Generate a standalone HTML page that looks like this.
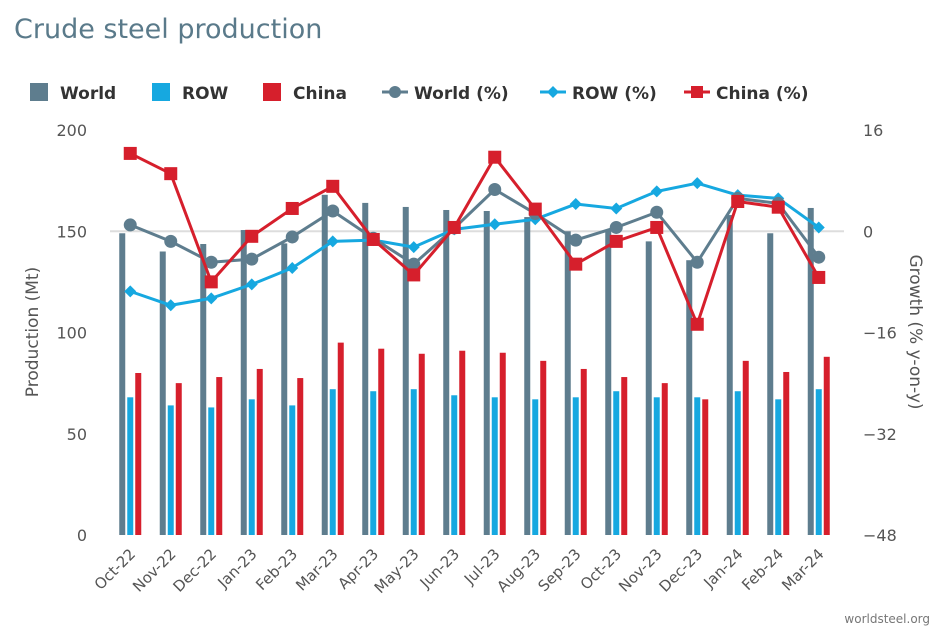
<!DOCTYPE html>
<html><head><meta charset="utf-8">
<style>
body{margin:0;background:#fff;width:948px;height:631px;overflow:hidden;font-family:"DejaVu Sans",sans-serif;}
</style></head>
<body>
<svg id="chart" width="948" height="631" xmlns="http://www.w3.org/2000/svg" font-family="DejaVu Sans, sans-serif">
<text x="14" y="38" font-size="27" fill="#5a7a8a">Crude steel production</text>
<text transform="translate(38,332) rotate(-90)" text-anchor="middle" font-size="17" fill="#555">Production (Mt)</text>
<text transform="translate(910,332) rotate(90)" text-anchor="middle" font-size="17" fill="#555">Growth (% y-on-y)</text>
<text x="930" y="623" text-anchor="end" font-size="12" fill="#777">worldsteel.org</text>
<g id="legend"></g>
<g id="grid"></g><g id="bars"></g><g id="lines"></g><g id="axes"></g>
</svg>
<script>
const categories=["Oct-22","Nov-22","Dec-22","Jan-23","Feb-23","Mar-23","Apr-23","May-23","Jun-23","Jul-23","Aug-23","Sep-23","Oct-23","Nov-23","Dec-23","Jan-24","Feb-24","Mar-24"];
const worldMt=[149,140,143.7,150.6,144,168,164,162,160.5,160,157,150,150.6,145,135.7,158,149,161.5];
const rowMt=[68,64,63,67,64,72,71,72,69,68,67,68,71,68,68,71,67,72];
const chinaMt=[80,75,78,82,77.5,95,92,89.5,91,90,86,82,78,75,67,86,80.5,88];
const worldPct=[1.0,-1.6,-4.9,-4.4,-0.9,3.2,-1.1,-5.2,0.5,6.6,2.8,-1.4,0.6,3.0,-4.9,5.2,4.4,-4.1];
const rowPct=[-9.5,-11.7,-10.6,-8.4,-5.8,-1.6,-1.4,-2.5,0.3,1.1,1.9,4.3,3.6,6.3,7.6,5.7,5.2,0.6];
const chinaPct=[12.3,9.1,-8.0,-0.8,3.6,7.1,-1.3,-6.9,0.6,11.7,3.5,-5.2,-1.6,0.6,-14.7,4.7,3.8,-7.3];
const leftTicks=[0,50,100,150,200];
const rightTicks=[-48,-32,-16,0,16];
const C={world:"#5e7d8e",row:"#16a8e0",china:"#d61f2c"};
const NS="http://www.w3.org/2000/svg";
const L=110,R=839,T=130,B=535;
const bw=(R-L)/categories.length;
const x=i=>L+bw*(i+0.5);
const yL=v=>B-(v/200)*(B-T);
const yR=v=>B-((v+48)/64)*(B-T);
function mk(tag,attrs,parent){const e=document.createElementNS(NS,tag);for(const k in attrs)e.setAttribute(k,attrs[k]);document.getElementById(parent).appendChild(e);return e;}
let g=mk("line",{x1:L,x2:R+5,y1:yL(150),y2:yL(150),stroke:"#ddd","stroke-width":2},"grid");


leftTicks.forEach(t=>{const e=mk("text",{x:87,y:yL(t)+6,"text-anchor":"end","font-size":16,fill:"#555"},"axes");e.textContent=t;

});
rightTicks.forEach(t=>{const e=mk("text",{x:863,y:yR(t)+6,"text-anchor":"start","font-size":16,fill:"#555"},"axes");e.textContent=(t<0?"\u2212"+(-t):t);

});
categories.forEach((c,i)=>{const e=mk("text",{x:0,y:0,"text-anchor":"end","font-size":15,fill:"#555",transform:`translate(${x(i)+6},${B+20}) rotate(-45)`},"axes");e.textContent=c;

});
[[worldMt,C.world,-8],[rowMt,C.row,0],[chinaMt,C.china,8]].forEach(([arr,col,off],s)=>{
 arr.forEach((v,i)=>{const r=mk("rect",{x:x(i)+off-3,y:yL(v),width:6,height:B-yL(v),fill:col},"bars");
 
 });
});
function line(arr,col,shape,name){
 const pts=arr.map((v,i)=>x(i)+","+yR(v)).join(" ");
 const p=mk("polyline",{points:pts,fill:"none",stroke:col,"stroke-width":3},"lines");
 
 
 arr.forEach((v,i)=>{let m;const cx=x(i),cy=yR(v);
  if(shape==="c")m=mk("circle",{cx,cy,r:6.5,fill:col},"lines");
  else if(shape==="d")m=mk("path",{d:`M${cx},${cy-6}L${cx+6},${cy}L${cx},${cy+6}L${cx-6},${cy}Z`,fill:col},"lines");
  else m=mk("rect",{x:cx-6.5,y:cy-6.5,width:13,height:13,fill:col},"lines");
  
  });
}
line(rowPct,C.row,"d","row-pct");
line(worldPct,C.world,"c","world-pct");
line(chinaPct,C.china,"s","china-pct");
const leg=[["World",C.world,"bar",30],["ROW",C.row,"bar",152],["China",C.china,"bar",263],["World (%)",C.world,"c",382],["ROW (%)",C.row,"d",540],["China (%)",C.china,"s",684]];
leg.forEach(([t,col,sh,lx])=>{let m;
 if(sh==="bar"){m=mk("rect",{x:lx,y:83,width:18,height:18,fill:col},"legend");}
 else{mk("line",{x1:lx,x2:lx+26,y1:92,y2:92,stroke:col,"stroke-width":3},"legend");
  if(sh==="c")m=mk("circle",{cx:lx+13,cy:92,r:6,fill:col},"legend");
  else if(sh==="d")m=mk("path",{d:`M${lx+13},86L${lx+19},92L${lx+13},98L${lx+7},92Z`,fill:col},"legend");
  else m=mk("rect",{x:lx+7,y:86,width:12,height:12,fill:col},"legend");}
 
 
 const e=mk("text",{x:lx+(sh==="bar"?30:32),y:99,"font-size":17,"font-weight":"bold",fill:"#333"},"legend");e.textContent=t;
 
 
});
</script>
</body></html>
